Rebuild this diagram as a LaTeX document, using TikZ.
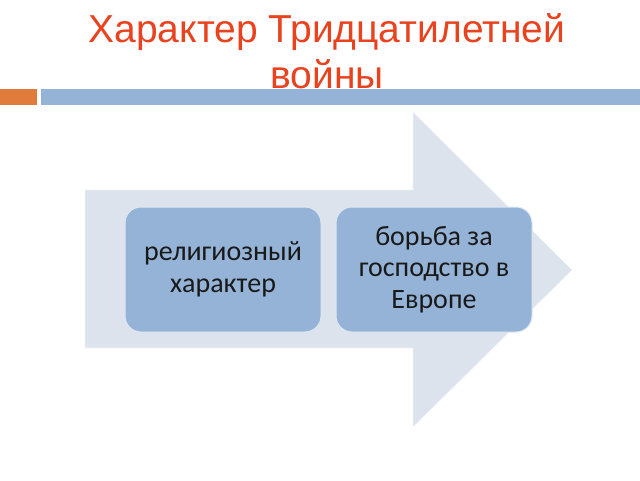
\documentclass[tikz,border=0pt]{standalone}
\usepackage{fontspec}
\setmainfont{Liberation Sans}
\newfontfamily\bodyfont{Carlito}
\definecolor{titlered}{HTML}{E8431E}
\definecolor{barorange}{HTML}{E07B3C}
\definecolor{barblue}{HTML}{95B3D7}
\definecolor{arrowfill}{HTML}{DCE3EC}
\definecolor{boxfill}{HTML}{95B3D7}
\begin{document}
\begin{tikzpicture}[x=1pt,y=-1pt,
  titletext/.style={text=titlered,font=\fontsize{39}{46}\selectfont,align=center},
  itembox/.style={rounded corners=16pt,fill=boxfill,draw=white!70!boxfill,line width=1pt,
    text=black!90,font=\bodyfont\fontsize{28}{31.5}\selectfont,align=center,
    minimum width=196pt,minimum height=125pt,inner sep=0pt}]
\useasboundingbox (0,0) rectangle (640,480);
\fill[white] (0,0) rectangle (640,480);
\node[titletext] (title) at (327,51) {Характер Тридцатилетней\\войны};
\fill[barorange] (0,89) rectangle (37,105);
\fill[barblue] (41,89) rectangle (640,105);
\path[fill=arrowfill,draw=white!60!arrowfill,line width=0.6pt]
  (85,190) -- (413,190) -- (413,112) -- (572,270) -- (413,427) -- (413,348) -- (85,348) -- cycle;
\node[itembox] (b1) at (223,269.5) {религиозный\\характер};
\node[itembox] (b2) at (434,269.5) {борьба за\\господство в\\Европе};
\end{tikzpicture}
\end{document}
